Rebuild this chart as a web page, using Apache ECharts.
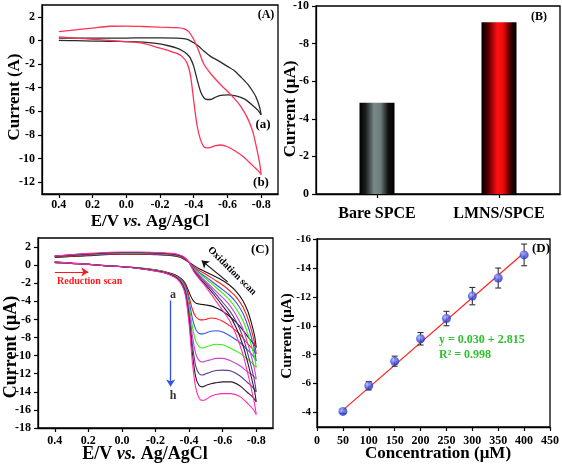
<!DOCTYPE html>
<html>
<head>
<meta charset="utf-8">
<script src="https://cdn.jsdelivr.net/npm/echarts@6.0.0/dist/echarts.min.js"></script>
<style>html,body{margin:0;padding:0;background:#fff;}#c{width:562px;height:464px;}</style>
</head>
<body>
<div id="c"></div>
<script>
// ---------- Data ----------
const potFwd = [0.4, 0.3, 0.2, 0.1, 0.0, -0.1, -0.2, -0.25, -0.3, -0.33, -0.36, -0.38, -0.4, -0.42, -0.44, -0.46, -0.48, -0.5, -0.53, -0.56, -0.6, -0.65, -0.7, -0.75, -0.78, -0.8];
const potRev = [-0.8, -0.79, -0.77, -0.75, -0.72, -0.68, -0.64, -0.6, -0.55, -0.5, -0.46, -0.43, -0.4, -0.37, -0.34, -0.3, -0.2, -0.1, 0.0, 0.1, 0.2, 0.3, 0.4];

// Panel A: (a) bare SPCE, (b) LMNS/SPCE
const aFwdA = [0.0, -0.02, -0.05, -0.07, -0.1, -0.15, -0.3, -0.45, -0.65, -0.85, -1.15, -1.5, -2.2, -3.3, -4.3, -4.85, -5.0, -5.0, -4.8, -4.65, -4.6, -4.7, -4.95, -5.5, -5.9, -6.3];
const aRevA = [-6.3, -5.6, -4.8, -4.3, -3.7, -3.1, -2.55, -2.2, -1.75, -1.35, -0.9, -0.5, -0.2, 0.05, 0.15, 0.2, 0.22, 0.22, 0.2, 0.2, 0.2, 0.2, 0.2];
const aFwdB = [0.3, 0.2, 0.1, 0.0, -0.1, -0.25, -0.65, -0.85, -1.1, -1.35, -1.9, -2.9, -5.1, -7.2, -8.4, -9.0, -9.1, -9.05, -8.9, -8.85, -9.0, -9.4, -9.9, -10.6, -11.0, -11.35];
const aRevB = [-11.35, -10.3, -8.9, -7.7, -6.6, -5.6, -4.9, -4.3, -3.6, -2.8, -2.0, -0.9, 0.1, 0.75, 1.0, 1.08, 1.12, 1.18, 1.22, 1.2, 1.05, 0.9, 0.75];

// Panel B
const barCats = ['Bare SPCE', 'LMNS/SPCE'];
const barVals = [-4.86, -9.14];

// Panel C: curves a..h
const cFwdA = [0.28, 0.18, 0.08, -0.05, -0.15, -0.3, -0.52, -0.7, -0.95, -1.2, -1.6, -2.1, -3.0, -3.8, -4.2, -4.3, -4.35, -4.4, -4.5, -4.7, -5.1, -5.8, -6.7, -7.9, -8.6, -9.1];
const cFwdB = [0.3, 0.18, 0.08, -0.05, -0.15, -0.31, -0.54, -0.72, -1.0, -1.25, -1.7, -2.3, -3.5, -4.9, -5.7, -6.0, -6.05, -6.0, -5.85, -5.9, -6.2, -6.8, -7.6, -8.7, -9.3, -9.8];
const cFwdC = [0.31, 0.19, 0.08, -0.05, -0.16, -0.32, -0.56, -0.74, -1.05, -1.3, -1.8, -2.5, -4.0, -5.9, -7.1, -7.55, -7.6, -7.5, -7.3, -7.25, -7.4, -7.9, -8.5, -9.4, -10.0, -10.6];
const cFwdD = [0.32, 0.2, 0.09, -0.05, -0.16, -0.33, -0.58, -0.76, -1.08, -1.35, -1.9, -2.7, -4.5, -6.8, -8.4, -9.0, -9.15, -9.05, -8.85, -8.75, -8.8, -9.2, -9.7, -10.4, -10.9, -11.3];
const cFwdE = [0.33, 0.2, 0.09, -0.06, -0.17, -0.34, -0.6, -0.78, -1.1, -1.4, -2.0, -2.9, -5.0, -7.8, -9.8, -10.55, -10.7, -10.6, -10.45, -10.3, -10.3, -10.6, -11.1, -11.8, -12.2, -12.6];
const cFwdF = [0.34, 0.21, 0.1, -0.06, -0.17, -0.35, -0.62, -0.8, -1.12, -1.45, -2.1, -3.1, -5.5, -8.8, -11.2, -12.0, -12.15, -12.0, -11.8, -11.65, -11.6, -11.7, -12.2, -13.0, -13.5, -14.0];
const cFwdG = [0.35, 0.22, 0.1, -0.06, -0.18, -0.36, -0.64, -0.82, -1.15, -1.5, -2.2, -3.3, -6.0, -9.8, -12.4, -13.3, -13.45, -13.3, -13.1, -13.0, -12.9, -12.9, -13.3, -14.1, -14.6, -15.1];
const cFwdH = [0.36, 0.22, 0.1, -0.07, -0.18, -0.37, -0.66, -0.85, -1.2, -1.55, -2.3, -3.5, -6.5, -10.8, -13.6, -14.7, -14.95, -14.85, -14.5, -14.3, -14.2, -14.2, -14.5, -15.3, -15.9, -16.5];
const cRevA = [-9.1, -7.8, -6.3, -5.1, -3.9, -2.9, -2.2, -1.7, -1.2, -0.75, -0.4, -0.05, 0.3, 0.65, 0.9, 1.05, 1.15, 1.2, 1.2, 1.15, 1.05, 0.95, 0.85];
const cRevB = [-9.8, -8.6, -7.1, -5.9, -4.6, -3.5, -2.8, -2.2, -1.6, -1.0, -0.6, -0.2, 0.3, 0.7, 0.95, 1.1, 1.2, 1.25, 1.25, 1.2, 1.1, 1.0, 0.9];
const cRevC = [-10.6, -9.4, -7.9, -6.7, -5.3, -4.1, -3.3, -2.7, -2.0, -1.3, -0.8, -0.3, 0.3, 0.75, 1.0, 1.15, 1.25, 1.3, 1.3, 1.25, 1.15, 1.05, 0.95];
const cRevD = [-11.3, -10.2, -8.8, -7.6, -6.1, -4.8, -3.8, -3.1, -2.3, -1.5, -0.95, -0.4, 0.3, 0.8, 1.05, 1.2, 1.3, 1.35, 1.35, 1.3, 1.2, 1.1, 1.0];
const cRevE = [-12.6, -11.5, -10.0, -8.7, -7.0, -5.5, -4.4, -3.6, -2.7, -1.8, -1.1, -0.5, 0.3, 0.85, 1.1, 1.25, 1.35, 1.4, 1.4, 1.35, 1.25, 1.15, 1.0];
const cRevF = [-14.0, -12.8, -11.2, -9.8, -7.9, -6.2, -5.0, -4.1, -3.0, -2.0, -1.25, -0.6, 0.3, 0.85, 1.1, 1.25, 1.35, 1.4, 1.4, 1.35, 1.25, 1.15, 1.0];
const cRevG = [-15.1, -13.9, -12.3, -10.8, -8.8, -6.9, -5.5, -4.5, -3.3, -2.2, -1.4, -0.7, 0.3, 0.85, 1.1, 1.25, 1.35, 1.4, 1.4, 1.35, 1.25, 1.1, 1.0];
const cRevH = [-16.5, -15.3, -13.6, -12.0, -9.8, -7.7, -6.1, -5.0, -3.7, -2.4, -1.5, -0.75, 0.3, 0.9, 1.15, 1.3, 1.4, 1.45, 1.45, 1.4, 1.3, 1.15, 1.0];

// Panel D
const concVals = [50, 100, 150, 200, 250, 300, 350, 400];
const peakVals = [-4.08, -5.85, -7.55, -9.1, -10.5, -12.05, -13.3, -14.9];
const errVals = [0.15, 0.29, 0.35, 0.43, 0.5, 0.6, 0.69, 0.75];
const fitX = [50, 400];
const fitY = [-4.17, -15.05];

// Tick labels
const ticksA_y = [-12, -10, -8, -6, -4, -2, 0, 2];
const ticksE_x = [0.4, 0.2, 0.0, -0.2, -0.4, -0.6, -0.8];
const ticksC_y = [-18, -16, -14, -12, -10, -8, -6, -4, -2, 0, 2];
const ticksD_y = [-16, -14, -12, -10, -8, -6, -4];

// ---------- Chart ----------
const FONT = '"Liberation Serif", "DejaVu Serif", serif';
const zip = (xs, ys) => xs.map((x, i) => [x, ys[i]]);

const axisBase = {
  axisLine: { show: true, onZero: false, lineStyle: { color: '#000', width: 1.3 } },
  axisTick: { show: true, inside: false, length: 4, lineStyle: { color: '#000', width: 1.2 } },
  axisLabel: { color: '#000', fontFamily: FONT, fontWeight: 'bold', fontSize: 12 },
  splitLine: { show: false }
};
function ax(extra) {
  const o = JSON.parse(JSON.stringify(axisBase));
  for (const k in extra) {
    if (typeof extra[k] === 'object' && !Array.isArray(extra[k]) && o[k]) Object.assign(o[k], extra[k]);
    else o[k] = extra[k];
  }
  return o;
}
const fmt1 = v => v.toFixed(1);

const series = [];
function cvPair(xi, yi, fwd, rev, color, name, width) {
  series.push({ type: 'line', name: name + 'f', xAxisIndex: xi, yAxisIndex: yi, data: zip(potFwd, fwd),
    showSymbol: false, smooth: 0.3, lineStyle: { color: color, width: width || 1.2 }, itemStyle: { color: color }, z: 3 });
  series.push({ type: 'line', name: name + 'r', xAxisIndex: xi, yAxisIndex: yi, data: zip(potRev, rev),
    showSymbol: false, smooth: 0.3, lineStyle: { color: color, width: width || 1.2 }, itemStyle: { color: color }, z: 3 });
}
cvPair(0, 0, aFwdA, aRevA, '#2b2b2b', 'Aa', 1.3);
cvPair(0, 0, aFwdB, aRevB, '#ff3355', 'Ab', 1.3);

const cColors = ['#151515', '#ff1a1a', '#2f55e0', '#33ee11', '#cc44cc', '#5a3a9a', '#3a1530', '#ff2fb0'];
const cF = [cFwdA, cFwdB, cFwdC, cFwdD, cFwdE, cFwdF, cFwdG, cFwdH];
const cR = [cRevA, cRevB, cRevC, cRevD, cRevE, cRevF, cRevG, cRevH];
for (let i = 0; i < 8; i++) cvPair(2, 2, cF[i], cR[i], cColors[i], 'C' + i, 1.1);

// Arrows in panel C
series.push({
  type: 'line', xAxisIndex: 2, yAxisIndex: 2, data: [], silent: true,
  markLine: {
    silent: true, animation: false, symbol: ['none', 'arrow'], symbolSize: 7,
    label: { show: false },
    data: [
      [{ coord: [0.4, -0.75], lineStyle: { color: '#ff1a1a', width: 1.2, type: 'solid' } }, { coord: [0.2, -0.75] }],
      [{ coord: [-0.29, -3.9], lineStyle: { color: '#2f55e0', width: 1.3, type: 'solid' } }, { coord: [-0.29, -13.4] }],
      [{ coord: [-0.63, -1.85], lineStyle: { color: '#111', width: 1.2, type: 'solid' } }, { coord: [-0.475, 0.5] }]
    ]
  }
});

// Bars
const gradGrey = { type: 'linear', x: 0, y: 0, x2: 1, y2: 0, colorStops: [
  { offset: 0, color: '#000' }, { offset: 0.18, color: '#1a1f1f' }, { offset: 0.42, color: '#7a8a8a' },
  { offset: 0.6, color: '#6c7c7c' }, { offset: 0.82, color: '#111' }, { offset: 1, color: '#000' }] };
const gradRed = { type: 'linear', x: 0, y: 0, x2: 1, y2: 0, colorStops: [
  { offset: 0, color: '#000' }, { offset: 0.2, color: '#5a0000' }, { offset: 0.45, color: '#ff1010' },
  { offset: 0.62, color: '#ee0a0a' }, { offset: 0.85, color: '#300000' }, { offset: 1, color: '#000' }] };
series.push({ type: 'bar', xAxisIndex: 1, yAxisIndex: 1, barWidth: 35,
  data: barVals.map((v, i) => ({ value: v, itemStyle: { color: i === 0 ? gradGrey : gradRed } })) });

// Panel D
series.push({ type: 'line', xAxisIndex: 3, yAxisIndex: 3, data: zip(fitX, fitY), showSymbol: false,
  lineStyle: { color: '#ff2020', width: 1.2 }, z: 2 });
series.push({ type: 'custom', xAxisIndex: 3, yAxisIndex: 3, z: 3,
  data: concVals.map((c, i) => [c, peakVals[i], errVals[i]]),
  encode: { x: 0, y: 1 },
  renderItem: function (params, api) {
    const x = api.value(0), y = api.value(1), e = api.value(2);
    const p1 = api.coord([x, y - e]), p2 = api.coord([x, y + e]);
    const hw = 3, st = { stroke: '#333', lineWidth: 1.1 };
    return { type: 'group', children: [
      { type: 'line', shape: { x1: p1[0], y1: p1[1], x2: p2[0], y2: p2[1] }, style: st },
      { type: 'line', shape: { x1: p1[0] - hw, y1: p1[1], x2: p1[0] + hw, y2: p1[1] }, style: st },
      { type: 'line', shape: { x1: p2[0] - hw, y1: p2[1], x2: p2[0] + hw, y2: p2[1] }, style: st }
    ] };
  } });
series.push({ type: 'scatter', xAxisIndex: 3, yAxisIndex: 3, z: 4, symbolSize: 9,
  data: zip(concVals, peakVals),
  itemStyle: { color: { type: 'radial', x: 0.4, y: 0.35, r: 0.65, colorStops: [
    { offset: 0, color: '#b8c0ff' }, { offset: 0.5, color: '#4a5ae8' }, { offset: 1, color: '#2030c0' }] } } });

function txt(text, x, y, size, opts) {
  opts = opts || {};
  return { type: 'text', x: x, y: y, rotation: opts.rot || 0, z: 10, silent: true,
    style: { text: text, fill: opts.color || '#000', fontFamily: FONT, fontWeight: 'bold', fontSize: size,
      fontStyle: opts.italic ? 'italic' : 'normal',
      align: opts.align || 'center', verticalAlign: 'middle', rich: opts.rich } };
}
const richVs = (size) => ({
  n: { fontFamily: FONT, fontWeight: 'bold', fontSize: size, fill: '#000' },
  i: { fontFamily: FONT, fontWeight: 'bold', fontStyle: 'italic', fontSize: size, fill: '#000' }
});

const graphic = [
  txt('(A)', 266, 15, 12),
  txt('(a)', 263, 125, 13),
  txt('(b)', 261, 183, 13),
  txt('(B)', 539, 17, 12),
  txt('(C)', 260, 250, 13),
  txt('(D)', 541, 249, 13),
  txt('Current (A)', 15, 97, 17, { rot: Math.PI / 2 }),
  txt('Current (μA)', 291, 109, 17, { rot: Math.PI / 2 }),
  txt('Current (μA)', 11, 347, 18, { rot: Math.PI / 2 }),
  txt('Current (μA)', 287, 336, 15, { rot: Math.PI / 2 }),
  txt('{n|E/V }{i|vs.}{n| Ag/AgCl}', 150, 222, 17, { rich: richVs(17) }),
  txt('{n|E/V }{i|vs.}{n| Ag/AgCl}', 145, 454, 18, { rich: richVs(18) }),
  txt('Concentration (μM)', 438, 454, 17),
  txt('Reduction scan', 57, 281, 10, { color: '#ff1a1a', align: 'left' }),
  txt('Oxidation scan', 232, 271, 10, { rot: -Math.PI / 4 }),
  txt('a', 173, 295, 12, { color: '#333' }),
  txt('h', 173, 396, 12, { color: '#333' }),
  txt('y = 0.030 + 2.815', 439, 340, 12, { color: '#2ec02e', align: 'left' }),
  txt('R² = 0.998', 439, 355, 12, { color: '#2ec02e', align: 'left' })
];

const gridBase = { show: true, borderColor: '#000', borderWidth: 1.3, backgroundColor: 'transparent', containLabel: false };
const option = {
  animation: false,
  backgroundColor: '#fff',
  grid: [
    Object.assign({ left: 42, top: 5, width: 236, height: 189 }, gridBase),
    Object.assign({ left: 316, top: 6, width: 244, height: 188 }, gridBase),
    Object.assign({ left: 38, top: 238, width: 235, height: 190 }, gridBase),
    Object.assign({ left: 317, top: 239, width: 233, height: 188 }, gridBase)
  ],
  xAxis: [
    ax({ type: 'value', gridIndex: 0, min: -0.9, max: 0.5, inverse: true,
      axisLabel: { customValues: ticksE_x, formatter: fmt1, margin: 5 }, axisTick: { customValues: ticksE_x } }),
    ax({ type: 'category', gridIndex: 1, data: barCats,
      axisLabel: { fontSize: 16, margin: 12 }, axisTick: { alignWithLabel: true } }),
    ax({ type: 'value', gridIndex: 2, min: -0.9, max: 0.5, inverse: true,
      axisLabel: { customValues: ticksE_x, formatter: fmt1, margin: 7 }, axisTick: { customValues: ticksE_x } }),
    ax({ type: 'value', gridIndex: 3, min: 0, max: 450, interval: 50, axisLabel: { margin: 8 } })
  ],
  yAxis: [
    ax({ type: 'value', gridIndex: 0, min: -13, max: 3,
      axisLabel: { customValues: ticksA_y, margin: 7 }, axisTick: { customValues: ticksA_y } }),
    ax({ type: 'value', gridIndex: 1, min: -10, max: 0, interval: 2, inverse: true, axisLabel: { margin: 7 } }),
    ax({ type: 'value', gridIndex: 2, min: -18, max: 3,
      axisLabel: { customValues: ticksC_y, margin: 7 }, axisTick: { customValues: ticksC_y } }),
    ax({ type: 'value', gridIndex: 3, min: -16, max: -3, inverse: true,
      axisLabel: { customValues: ticksD_y, margin: 6, fontSize: 11 }, axisTick: { customValues: ticksD_y } })
  ],
  series: series,
  graphic: graphic
};
const chart = echarts.init(document.getElementById('c'), null, { renderer: 'canvas' });
chart.setOption(option);
</script>
</body>
</html>
